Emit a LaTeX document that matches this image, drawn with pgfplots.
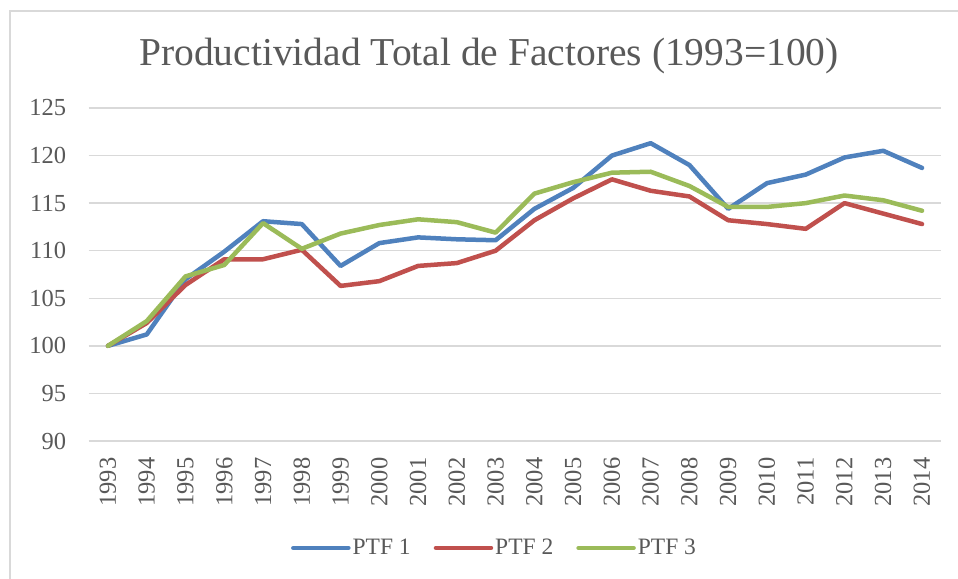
\documentclass[border=0pt]{standalone}
\usepackage{fontspec}
\setmainfont{Liberation Serif}
\usepackage{pgfplots}
\usepackage{pgfplotstable}
\pgfplotsset{compat=1.18}
\definecolor{cA}{HTML}{4F81BD}
\definecolor{cB}{HTML}{C0504D}
\definecolor{cC}{HTML}{9BBB59}
\definecolor{gridc}{HTML}{D9D9D9}
\definecolor{txt}{HTML}{595959}
\pgfplotstableread{
year PTF1 PTF2 PTF3
1993 100.0 100.0 100.0
1994 101.2 102.4 102.6
1995 107.0 106.4 107.3
1996 109.9 109.1 108.5
1997 113.1 109.1 112.9
1998 112.8 110.1 110.2
1999 108.4 106.3 111.8
2000 110.8 106.8 112.7
2001 111.4 108.4 113.3
2002 111.2 108.7 113.0
2003 111.1 110.0 111.9
2004 114.4 113.2 116.0
2005 116.6 115.5 117.2
2006 120.0 117.5 118.2
2007 121.3 116.3 118.3
2008 119.0 115.7 116.8
2009 114.4 113.2 114.6
2010 117.1 112.8 114.6
2011 118.0 112.3 115.0
2012 119.8 115.0 115.8
2013 120.5 113.9 115.3
2014 118.7 112.8 114.2
}\datatable
\begin{document}
\begin{tikzpicture}[x=1bp,y=1bp]
\useasboundingbox (0,0) rectangle (958,579);
\fill[white] (0,0) rectangle (958,579);
\draw[gridc, line width=1.3bp] (10,-10) -- (10,568) -- (970,568);
\node[text=txt, anchor=base, inner sep=0pt, font=\fontsize{39.5bp}{44bp}\selectfont] at (489,513) {Productividad Total de Factores (1993=100)};
\begin{axis}[
  at={(88.6bp,138bp)}, anchor=south west,
  scale only axis, width=852.8bp, height=333bp,
  xmin=1992.5, xmax=2014.5, ymin=90, ymax=125,
  ytick={90,95,...,125}, xtick={1993,...,2014},
  axis line style={draw=none},
  major tick length=0pt,
  ymajorgrids, grid style={gridc, line width=1.3bp},
  /pgf/number format/assume math mode=true,
  /pgf/number format/1000 sep={},
  ticklabel style={text=txt, font=\fontsize{24.5bp}{28bp}\selectfont},
  yticklabel style={xshift=-19bp},
  xticklabel style={rotate=90, anchor=east, xshift=-13bp, yshift=0bp},
  legend style={at={(0.476,-0.321)}, anchor=center, draw=none, fill=none,
    legend columns=-1, font=\fontsize{23.5bp}{28bp}\selectfont, text=txt,
    nodes={inner xsep=2bp},
    /tikz/every even column/.append style={column sep=21bp},
    /tikz/every odd column/.append style={column sep=0bp}},
  legend image code/.code={\draw[#1] (0bp,0bp) -- (55bp,0bp);},
  every axis plot/.append style={line width=4.5bp, line join=round, line cap=round},
]
\addplot[cA] table[x=year, y=PTF1] {\datatable};
\addplot[cB] table[x=year, y=PTF2] {\datatable};
\addplot[cC] table[x=year, y=PTF3] {\datatable};
\legend{PTF 1, PTF 2, PTF 3}
\end{axis}
\end{tikzpicture}
\end{document}
